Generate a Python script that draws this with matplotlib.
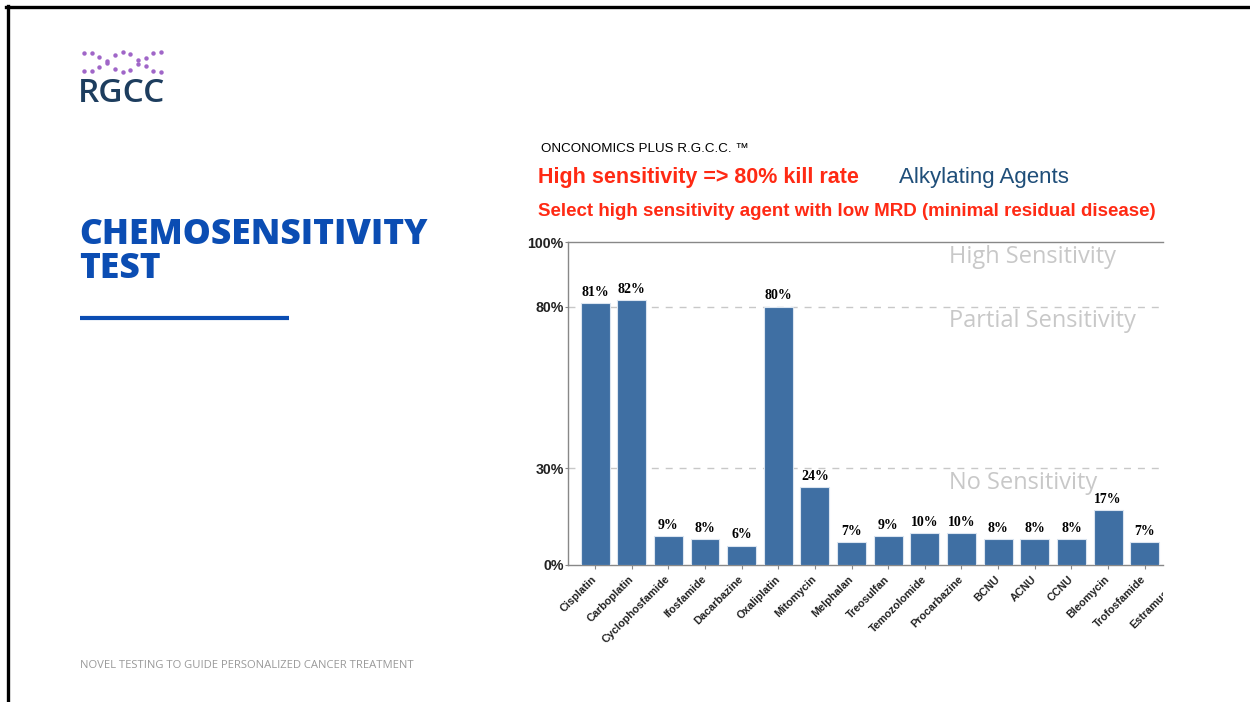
import numpy as np
import matplotlib.pyplot as plt
from matplotlib.lines import Line2D
from matplotlib.transforms import Bbox, TransformedBbox, offset_copy

# chart data
agents = ['Cisplatin', 'Carboplatin', 'Cyclophosfamide', 'Ifosfamide', 'Dacarbazine',
          'Oxaliplatin', 'Mitomycin', 'Melphalan', 'Treosulfan', 'Temozolomide',
          'Procarbazine', 'BCNU', 'ACNU', 'CCNU', 'Bleomycin', 'Trofosfamide',
          'Estramustine']
kill_rate = [81, 82, 9, 8, 6, 80, 24, 7, 9, 10, 10, 8, 8, 8, 17, 7]
ytick_vals = [0, 30, 80, 100]
zones = [('High Sensitivity', 95.5), ('Partial Sensitivity', 75.5), ('No Sensitivity', 25.5)]

SANS = ['Liberation Sans', 'DejaVu Sans']
W, H = 1250, 702


def fx(px):
    return px / W


def fy(py):
    return 1 - py / H


def main():
    fig = plt.figure(figsize=(12.5, 7.02), dpi=100)
    fig.patch.set_facecolor('white')

    # slide border (top and left)
    fig.add_artist(Line2D([fx(7.5), fx(7.5)], [0, fy(6)], color='black', lw=2.4,
                          transform=fig.transFigure))
    fig.add_artist(Line2D([fx(6), 1], [fy(6.5), fy(6.5)], color='black', lw=2.4,
                          transform=fig.transFigure))

    # logo: helix dots + RGCC
    xs = np.linspace(84, 161, 11)
    off = 10 * np.cos(2 * np.pi * (xs - 88) / 70)
    for sgn in (1, -1):
        fig.add_artist(Line2D(fx(xs), fy(62 - sgn * off), ls='none', marker='o', ms=3.2,
                              color='#a066c8', mec='none', transform=fig.transFigure))
    fig.text(fx(78), fy(94), 'RGCC', fontsize=24, family='Open Sans', weight='semibold',
             color='#1d3d5e', va='center', ha='left')

    # slide title
    fig.text(fx(79), fy(235), 'CHEMOSENSITIVITY', fontsize=25.5, family='Open Sans',
             weight='heavy', color='#0b4db3', va='center', ha='left')
    fig.text(fx(79), fy(269), 'TEST', fontsize=25.5, family='Open Sans',
             weight='heavy', color='#0b4db3', va='center', ha='left')
    fig.add_artist(Line2D([fx(80), fx(289)], [fy(318), fy(318)], color='#0b4db3', lw=3,
                          solid_capstyle='butt', transform=fig.transFigure))
    fig.text(fx(80), fy(666), 'NOVEL TESTING TO GUIDE PERSONALIZED CANCER TREATMENT',
             fontsize=8.1, family='Open Sans', color='#9a9a9a', va='center', ha='left')

    # chart headers
    fig.text(fx(541), fy(149), 'ONCONOMICS PLUS R.G.C.C. \u2122', fontsize=9.6,
             family=SANS, color='black', va='center', ha='left')
    fig.text(fx(538), fy(178), 'High sensitivity => 80% kill rate', fontsize=15.5,
             family=SANS, weight='bold', color='#ff2a14', va='center', ha='left')
    fig.text(fx(899), fy(178), 'Alkylating Agents', fontsize=16,
             family=SANS, color='#1f4e79', va='center', ha='left')
    fig.text(fx(538), fy(212), 'Select high sensitivity agent with low MRD (minimal residual disease)',
             fontsize=13.5, family=SANS, weight='bold', color='#ff2a14', va='center', ha='left')

    # bar chart
    ax = fig.add_axes([fx(568), fy(565), fx(1163 - 568), (565 - 242) / H])
    x = np.arange(len(agents))
    bars = ax.bar(x[:len(kill_rate)], kill_rate, width=0.79, color='#3f6fa3',
                  edgecolor='#dbe5f0', linewidth=0.8, zorder=3)
    for b, v in zip(bars, kill_rate):
        ax.annotate(f'{v}%', (b.get_x() + b.get_width() / 2, v), xytext=(0, 3),
                    textcoords='offset points', ha='center', va='bottom',
                    family='Liberation Serif', weight='bold', fontsize=10, color='black')

    ax.set_xlim(-0.74, 15.5)
    ax.set_ylim(0, 100)
    ax.set_yticks(ytick_vals)
    ax.set_yticklabels([f'{v}%' for v in ytick_vals], family=SANS, weight='bold',
                       fontsize=10.2, color='#222222')
    ax.set_xticks(x[:16])
    ax.set_xticklabels(agents[:16], rotation=45, ha='right', va='center',
                       rotation_mode='anchor', family=SANS, weight='bold',
                       fontsize=7.8, color='#222222')
    ax.tick_params(axis='y', length=2, color='#888888', width=0.8, pad=1)
    ax.tick_params(axis='x', length=3, color='#888888', width=0.8, pad=6)

    for y in (30, 80):
        ax.axhline(y, color='#c8c8c8', lw=1, ls=(0, (5, 5)), zorder=1)
    ax.spines['right'].set_visible(False)
    for s in ('left', 'bottom', 'top'):
        ax.spines[s].set_color('#888888')
        ax.spines[s].set_linewidth(1.0)

    for label, y in zones:
        ax.text(0.64, y, label, transform=ax.get_yaxis_transform(), fontsize=17,
                family='Open Sans', color='#c8c8c8', va='center', ha='left', zorder=2)

    # labels past the cropped right edge
    clip = TransformedBbox(Bbox([[0, 0], [fx(1163), 1]]), fig.transFigure)
    for i in range(16, len(agents)):
        t = ax.text(i, 0, agents[i], rotation=45, ha='right', va='center',
                    rotation_mode='anchor', family=SANS, weight='bold',
                    fontsize=7.8, color='#222222',
                    transform=offset_copy(ax.transData, fig=fig, x=0, y=-9, units='points'))
        t.set_clip_on(True)
        t.set_clip_box(clip)

    fig.savefig('out.png', dpi=100, facecolor='white')


if __name__ == '__main__':
    main()
